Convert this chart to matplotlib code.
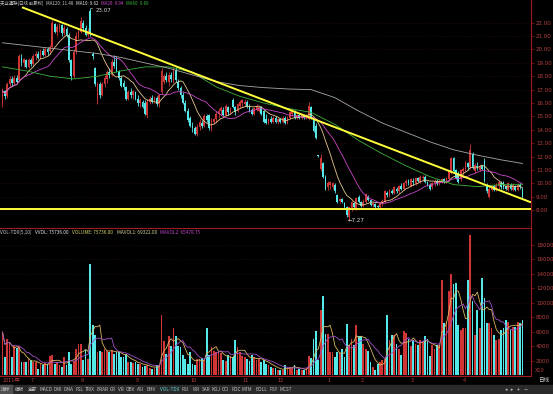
import numpy as np
import pandas as pd
import matplotlib
matplotlib.use("Agg")
import matplotlib.pyplot as plt
from matplotlib.patches import Rectangle

# daily candles, 2011-06 .. 2012-04 (price in yuan)
opens = [
    15.9, 16.9, 16.5, 17.4, 17.8, 17.5, 17.9, 17.7, 19.4, 19.0,
    19.2, 18.7, 19.2, 18.9, 19.5, 19.7, 19.4, 19.9, 19.6, 20.0,
    19.9, 20.2, 21.9, 21.3, 21.7, 21.8, 21.2, 21.5, 21.1, 19.2,
    18.0, 19.9, 21.0, 21.3, 22.0, 21.6, 21.1, 22.9, 19.7, 18.6,
    16.2, 17.4, 16.6, 17.4, 17.8, 18.3, 18.1, 19.1, 19.4, 18.4,
    17.9, 17.5, 17.2, 16.3, 16.8, 16.6, 16.8, 16.3, 16.0, 16.1,
    16.0, 15.1, 16.1, 16.4, 16.2, 16.4, 15.9, 16.8, 17.6, 18.0,
    17.6, 18.1, 17.7, 18.5, 17.6, 17.1, 16.6, 16.0, 15.4, 14.9,
    14.3, 14.1, 13.7, 14.2, 14.5, 14.3, 15.0, 15.1, 14.1, 14.6,
    14.8, 15.2, 15.4, 15.5, 15.1, 15.7, 15.3, 16.2, 15.7, 15.4,
    15.8, 16.0, 15.9, 16.1, 15.8, 15.5, 15.2, 15.5, 15.4, 15.7,
    15.4, 14.8, 14.5, 14.8, 14.6, 14.9, 14.6, 14.8, 14.6, 14.9,
    14.5, 14.9, 15.2, 15.4, 14.9, 15.1, 14.9, 15.1, 14.9, 14.8,
    15.7, 14.7, 14.3, 12.06, 11.1, 11.5, 10.5, 9.7, 9.9, 9.7,
    9.9, 9.1, 8.7, 8.8, 8.5, 8.25, 7.5, 8.0, 8.5, 8.1,
    9.0, 8.6, 8.3, 8.6, 9.0, 8.75, 8.4, 8.45, 8.3, 8.2,
    8.5, 8.6, 9.3, 9.1, 9.4, 9.3, 9.6, 9.4, 9.8, 9.6,
    10.0, 10.2, 9.8, 10.2, 10.0, 10.4, 10.1, 10.4, 10.5, 10.1,
    9.9, 9.7, 10.0, 10.2, 10.0, 10.1, 10.3, 10.1, 10.3, 10.8,
    11.9, 11.0, 10.8, 10.3, 10.9, 11.0, 11.5, 11.2, 12.2, 10.9,
    11.3, 11.0, 11.3, 11.7, 9.9, 9.0, 9.5, 9.8, 9.5, 9.8,
    10.0, 10.1, 9.8, 9.5, 9.9, 9.5, 9.8, 9.5, 9.9, 9.6,
]
highs = [
    17.1, 17.0, 17.6, 18.0, 18.0, 18.1, 18.1, 19.7, 19.7, 19.4,
    19.3, 19.4, 19.4, 19.7, 19.9, 19.9, 20.0, 20.1, 20.2, 20.2,
    20.3, 22.2, 22.0, 21.9, 22.0, 21.9, 21.8, 21.7, 21.2, 19.3,
    20.0, 21.3, 21.6, 22.4, 22.2, 21.8, 21.6, 23.07, 19.8, 18.7,
    17.6, 17.6, 17.6, 18.1, 18.5, 18.6, 19.3, 19.6, 19.5, 18.5,
    18.1, 17.7, 17.3, 17.0, 17.1, 17.0, 16.9, 16.6, 16.4, 16.2,
    16.2, 16.3, 16.5, 16.6, 16.5, 16.5, 16.7, 18.6, 18.2, 18.3,
    18.3, 18.3, 18.7, 18.7, 17.8, 17.3, 16.8, 16.2, 15.6, 15.0,
    14.6, 14.3, 14.4, 14.8, 14.7, 15.2, 15.2, 15.2, 14.9, 14.9,
    15.4, 15.6, 15.8, 15.7, 15.9, 15.8, 15.7, 16.4, 15.8, 16.0,
    16.2, 16.3, 16.3, 16.2, 15.9, 15.6, 15.7, 15.9, 15.8, 15.8,
    15.5, 15.2, 14.9, 15.0, 15.0, 15.0, 14.9, 14.9, 15.0, 15.0,
    15.0, 15.4, 15.6, 15.5, 15.2, 15.2, 15.2, 15.2, 15.2, 16.1,
    15.8, 14.8, 14.5, 12.1, 12.2, 11.6, 10.6, 10.2, 10.2, 10.1,
    10.0, 9.2, 8.9, 8.9, 8.6, 8.3, 8.3, 8.7, 8.6, 9.0,
    9.1, 8.7, 8.8, 9.3, 9.1, 8.8, 8.6, 8.5, 8.4, 8.6,
    8.8, 9.5, 9.4, 9.6, 9.6, 9.8, 9.7, 9.9, 10.0, 10.1,
    10.3, 10.3, 10.4, 10.4, 10.5, 10.5, 10.6, 10.6, 10.6, 10.2,
    10.0, 10.1, 10.3, 10.3, 10.3, 10.4, 10.4, 10.5, 11.0, 12.0,
    12.0, 11.1, 10.9, 11.1, 11.2, 11.7, 11.6, 12.9, 12.3, 11.5,
    11.6, 11.4, 11.4, 11.9, 10.0, 9.7, 9.9, 9.9, 10.0, 10.2,
    10.2, 10.2, 9.9, 10.1, 10.0, 10.0, 9.9, 10.0, 10.0, 9.7,
]
lows = [
    15.7, 16.3, 16.4, 17.2, 17.3, 17.4, 17.5, 17.6, 18.8, 18.7,
    18.6, 18.6, 18.8, 18.8, 19.2, 19.3, 19.3, 19.5, 19.5, 19.6,
    19.7, 20.1, 21.2, 21.0, 21.3, 21.0, 21.1, 20.9, 19.1, 17.7,
    17.9, 19.7, 20.8, 21.2, 21.4, 21.0, 20.9, 21.0, 19.3, 17.3,
    15.9, 16.4, 16.5, 17.2, 17.5, 17.9, 18.0, 18.6, 18.3, 17.7,
    17.2, 17.0, 16.2, 16.2, 16.4, 16.3, 16.2, 15.8, 15.7, 15.6,
    15.1, 14.9, 15.9, 16.0, 16.0, 15.8, 15.7, 16.7, 17.4, 17.6,
    17.3, 17.6, 17.5, 17.6, 17.0, 16.4, 15.9, 15.3, 14.6, 14.2,
    13.8, 13.6, 13.5, 14.0, 14.1, 14.2, 14.6, 14.0, 13.9, 14.4,
    14.6, 14.9, 15.1, 15.0, 15.0, 15.1, 15.2, 15.6, 15.1, 15.3,
    15.6, 15.7, 15.8, 15.6, 15.3, 15.1, 15.1, 15.4, 15.3, 15.1,
    14.5, 14.4, 14.4, 14.5, 14.5, 14.5, 14.4, 14.5, 14.5, 14.4,
    14.4, 14.8, 15.0, 14.8, 14.8, 14.8, 14.8, 14.8, 14.8, 14.7,
    14.8, 13.8, 13.3, 12.0, 10.9, 10.4, 9.5, 9.5, 9.6, 9.6,
    9.3, 8.5, 8.5, 8.5, 8.1, 7.5, 7.27, 7.9, 8.1, 8.0,
    8.5, 8.2, 8.2, 8.5, 8.7, 8.3, 8.2, 8.1, 8.1, 8.1,
    8.3, 8.5, 9.0, 9.0, 9.2, 9.2, 9.3, 9.3, 9.5, 9.5,
    9.8, 9.9, 9.7, 9.9, 9.9, 10.1, 10.0, 10.2, 10.0, 9.8,
    9.5, 9.6, 9.8, 9.9, 9.9, 10.0, 10.0, 10.0, 10.2, 10.7,
    10.8, 10.3, 10.0, 10.2, 10.6, 10.9, 11.0, 11.1, 11.1, 10.8,
    11.0, 10.9, 11.0, 10.1, 9.3, 8.9, 9.4, 9.4, 9.4, 9.6,
    9.6, 9.6, 9.5, 9.4, 9.5, 9.4, 9.4, 9.4, 9.6, 8.9,
]
closes = [
    16.9, 16.5, 17.4, 17.8, 17.5, 17.9, 17.6, 19.5, 19.0, 19.3,
    18.7, 19.2, 18.9, 19.5, 19.7, 19.4, 19.9, 19.6, 20.0, 19.8,
    20.2, 22.0, 21.3, 21.7, 21.9, 21.2, 21.6, 21.0, 19.2, 18.0,
    19.8, 21.0, 21.4, 22.1, 21.6, 21.1, 21.4, 21.2, 19.5, 17.4,
    17.4, 16.6, 17.4, 17.9, 18.3, 18.1, 19.1, 18.8, 18.4, 17.9,
    17.3, 17.2, 16.3, 16.8, 16.6, 16.9, 16.3, 16.0, 16.2, 15.7,
    15.2, 16.1, 16.3, 16.1, 16.4, 15.9, 16.6, 18.4, 18.0, 17.7,
    18.1, 17.8, 18.5, 17.7, 17.1, 16.6, 16.0, 15.4, 14.7, 14.3,
    14.1, 13.7, 14.2, 14.6, 14.3, 15.0, 14.7, 14.1, 14.7, 14.8,
    15.2, 15.4, 15.6, 15.1, 15.8, 15.3, 15.6, 15.7, 15.3, 15.9,
    16.1, 16.2, 16.1, 15.7, 15.4, 15.2, 15.6, 15.8, 15.7, 15.2,
    14.6, 14.5, 14.8, 14.6, 14.9, 14.6, 14.8, 14.6, 14.9, 14.5,
    14.9, 15.3, 15.5, 14.9, 15.1, 14.9, 15.1, 14.9, 15.0, 15.8,
    14.9, 13.9, 13.4, 12.04, 11.9, 10.5, 9.6, 10.0, 10.1, 10.0,
    9.4, 8.6, 8.8, 8.6, 8.2, 7.6, 8.2, 8.6, 8.2, 8.9,
    8.6, 8.3, 8.6, 9.2, 8.75, 8.4, 8.5, 8.2, 8.2, 8.5,
    8.7, 9.4, 9.1, 9.5, 9.3, 9.7, 9.4, 9.8, 9.6, 10.0,
    10.2, 10.0, 10.3, 10.1, 10.4, 10.2, 10.5, 10.5, 10.1, 9.9,
    9.6, 10.0, 10.2, 10.0, 10.2, 10.3, 10.1, 10.4, 10.9, 11.9,
    10.9, 10.4, 10.1, 11.0, 11.1, 11.6, 11.2, 12.5, 11.2, 11.4,
    11.2, 11.3, 11.1, 10.2, 9.4, 9.6, 9.8, 9.5, 9.9, 10.1,
    9.7, 9.7, 9.6, 10.0, 9.6, 9.9, 9.5, 9.9, 9.7, 9.0,
]
# volume, axis units (x10 shares)
volumes = [
    6000, 2600, 5000, 4600, 2600, 4000, 3800, 4000, 1800, 1900,
    1800, 2300, 2200, 1800, 1900, 900, 1600, 1500, 1700, 1600,
    2700, 2800, 1600, 1800, 1500, 1200, 2600, 1500, 3200, 1600,
    2000, 3700, 4400, 4300, 2100, 3500, 2300, 15400, 7000, 5600,
    3300, 3400, 3300, 3600, 3400, 3200, 3500, 3000, 3300, 3200,
    2600, 2500, 2900, 1900, 1900, 1700, 1900, 1600, 1600, 1200,
    1300, 1500, 1100, 900, 1000, 1400, 1500, 8300, 4700, 3000,
    5400, 4000, 6500, 5500, 4000, 3900, 2800, 2300, 1600, 3300,
    1600, 1400, 2300, 2300, 2400, 2200, 6500, 2800, 3900, 3400,
    3300, 3200, 3100, 2100, 2000, 2800, 2700, 2600, 4900, 3900,
    3300, 2700, 2500, 2300, 2000, 2800, 2500, 2100, 2300, 1900,
    2100, 1600, 1400, 1200, 1000, 1100, 800, 700, 700, 1400,
    1100, 1200, 1100, 1400, 700, 900, 800, 700, 1000, 2700,
    2400, 5000, 6100, 2100, 9000, 11000, 5700, 5700, 3300, 3200,
    2600, 3200, 3100, 3700, 2600, 7100, 4200, 5100, 4200, 7000,
    5400, 5400, 4400, 3700, 3400, 1900, 1200, 700, 1600, 1900,
    2200, 2300, 8400, 4900, 5600, 5600, 4400, 3700, 2800, 6100,
    5800, 5100, 4000, 4900, 4400, 4200, 4900, 4600, 5500, 5000,
    2700, 4200, 3700, 4200, 4200, 13100, 7200, 7500, 11700, 14000,
    12600, 12800, 7000, 6300, 6500, 6600, 13100, 19400, 10300, 5600,
    9100, 6600, 13500, 10700, 7300, 7300, 6600, 5600, 4900, 5100,
    6300, 6500, 7600, 7400, 6300, 6700, 6700, 7400, 7300, 7700,
]

# long moving averages every 10 sessions
ma_idx = [0, 10, 20, 30, 40, 50, 60, 70, 80, 90, 100, 110, 120,
          130, 140, 150, 160, 170, 180, 190, 200, 210, 219]
ma60 = [18.7, 18.4, 18.0, 17.8, 18.0, 18.4, 18.7, 18.7, 18.3, 17.2, 16.5, 16.0,
        15.6, 15.3, 14.4, 13.2, 12.2, 11.3, 10.5, 9.9, 9.75, 9.9, 9.89]
ma120 = [20.5, 20.3, 20.1, 19.9, 19.7, 19.4, 19.0, 18.6, 18.1, 17.6, 17.3, 17.15,
         17.05, 17.0, 16.4, 15.4, 14.5, 13.8, 13.1, 12.5, 12.1, 11.75, 11.48]

month_pos = [0, 12, 33, 56, 79, 101, 116, 137, 151, 172, 194]
month_labels = ["2011年", "7", "8", "9", "10", "11", "12", "1", "2", "3", "4"]

price_ticks = [8, 9, 10, 11, 12, 13, 14, 15, 16, 17, 18, 19, 20, 21, 22]
vol_ticks = [2000, 4000, 6000, 8000, 10000, 12000, 14000, 16000, 18000]

trend_x = [8.6, 222.2]
trend_y = [23.13, 8.6]
support_y = 8.04

tabs = ["指标", "模板", "全部", "MACD", "DMI", "DMA", "FSL", "TRIX", "BRAR", "CR", "VR",
        "OBV", "ASI", "EMV", "VOL-TDX", "RSI", "WR", "SAR", "KDJ", "CCI", "ROC", "MTM",
        "BOLL", "PSY", "MCST"]
tab_x = [0, 14, 27, 39, 52, 63, 74, 84, 96, 109, 117, 125, 136, 146, 159,
         181, 192, 201, 210, 221, 231, 241, 254, 268, 279]

W, H = 553, 394
RED = "#d03636"
CYAN = "#54e8e8"
AXRED = "#a01c1c"
LBL = "#b84040"
CJK = ["Noto Sans CJK SC", "DejaVu Sans"]


def fx(x):
    return x / W


def fy(y):
    return 1 - y / H


fig = plt.figure(figsize=(W / 100, H / 100), dpi=100, facecolor="black")
renderer = fig.canvas.get_renderer()
ax = fig.add_axes([0, fy(228), fx(531), 228 / H], facecolor="black")
axv = fig.add_axes([0, fy(376), fx(531), (376 - 229) / H], facecolor="black")

x = np.arange(len(closes))
o = np.array(opens)
c = np.array(closes)
up = c >= o
cols = np.where(up, RED, CYAN)

for a in (ax, axv):
    a.set_xlim(-1.05, 222.6)
    a.set_xticks([])
    a.yaxis.tick_right()
    a.tick_params(axis="y", colors=AXRED, labelcolor=LBL, labelsize=4,
                  length=2, width=0.5, pad=1.5)
    for s in ("top", "left"):
        a.spines[s].set_visible(False)
    for s in ("right", "bottom"):
        a.spines[s].set_color(AXRED)
        a.spines[s].set_linewidth(0.8)
    a.grid(axis="y", color="#3a0d0d", linestyle=(0, (1, 2)), linewidth=0.5)
    a.set_axisbelow(True)

# price panel
ax.set_ylim(6.655, 23.70)
ax.set_yticks(price_ticks)
ax.set_yticklabels([f"{v:.2f}" for v in price_ticks])
ax.vlines(x, lows, highs, colors=cols, linewidth=0.6, zorder=2)
ax.bar(x, np.maximum(np.abs(c - o), 0.05), bottom=np.minimum(o, c), width=0.74,
       color=cols, linewidth=0, zorder=2)

ma10 = pd.Series(closes).rolling(10, min_periods=1).mean()
ma20 = pd.Series(closes).rolling(20, min_periods=1).mean()
ax.plot(x, ma10, color="#e6c890", linewidth=0.6, zorder=3)
ax.plot(x, ma20, color="#c848c8", linewidth=0.6, zorder=3)
ax.plot(ma_idx, ma60, color="#3cb43c", linewidth=0.6, zorder=3)
ax.plot(ma_idx, ma120, color="#a8a8a8", linewidth=0.6, zorder=3)

ax.plot(trend_x, trend_y, color="#ffff3c", linewidth=1.4, zorder=4)
ax.axhline(support_y, color="#ffff3c", linewidth=1.4, zorder=4)

ax.annotate("23.07", xy=(37.2, 23.07), xytext=(39.2, 22.88), color="#d8d8d8",
            fontsize=4, va="center", ha="left",
            arrowprops=dict(arrowstyle="-", color="#d8d8d8", linewidth=0.4))
ax.text(145.3, 7.22, "←7.27", color="#d8d8d8", fontsize=4, va="center", ha="left")

# volume panel
axv.set_ylim(-69, 20200)
axv.set_yticks(vol_ticks)
axv.set_yticklabels([str(v) for v in vol_ticks])
axv.bar(x, volumes, width=0.74, color=cols, linewidth=0, zorder=2)
mavol1 = pd.Series(volumes).rolling(5, min_periods=1).mean()
mavol2 = pd.Series(volumes).rolling(10, min_periods=1).mean()
axv.plot(x, mavol1, color="#d8b860", linewidth=0.6, zorder=3)
axv.plot(x, mavol2, color="#a050c8", linewidth=0.6, zorder=3)


def text_row(parts, y, size, gap=2.5):
    # lay coloured pieces side by side, each after the previous one's width
    xcur = 0.5
    for s, col in parts:
        t = fig.text(fx(xcur), fy(y), s, color=col, fontsize=size, family=CJK, va="center")
        xcur += t.get_window_extent(renderer).width + gap


text_row([("天业通联(日线 前复权)", "#c8c8c8"), ("MA120: 11.48", "#c8c8c8"),
          ("MA10: 9.62", "#e8e8e8"), ("MA20: 9.94", "#c848c8"),
          ("MA60: 9.89", "#3cb43c")], 3.5, 3.2)
text_row([("VOL-TDX(5,10)", "#c8c8c8"), ("VVOL: 75736.00", "#e8e8e8"),
          ("VOLUME: 75736.00", "#d8d070"), ("MAVOL1: 69322.00", "#d8d0a0"),
          ("MAVOL2: 65478.75", "#c048c8")], 232.5, 3.4, gap=3.5)

# month labels
for pos, lab in zip(month_pos, month_labels):
    xp = 2.5 + pos * 2.374
    fig.text(fx(max(xp, 1)), fy(381), lab, color=LBL, fontsize=4, family=CJK,
             va="center", ha="left")
fig.text(fx(538), fy(381), "日线", color="#d0d0d0", fontsize=4, family=CJK, va="center")
fig.text(fx(535), fy(371), "X10", color=LBL, fontsize=3.6, va="center")

# bottom toolbar
fig.patches.append(Rectangle((0, 0), 1, 9 / H, transform=fig.transFigure,
                             color="#2a2a2a", zorder=0))
fig.patches.append(Rectangle((0, 0), fx(12), 9 / H, transform=fig.transFigure,
                             color="#505050", zorder=0))
for tx, lab in zip(tab_x, tabs):
    col = "#60d0d0" if lab == "VOL-TDX" else "#c0c0c0"
    fig.text(fx(tx + 1), fy(389.5), lab, color=col, fontsize=3.4, family=CJK, va="center")
fig.text(fx(505), fy(389.5), "◂  ▸  +  −", color="#c0c0c0", fontsize=3.6, va="center")

fig.savefig("out.png", dpi=100, facecolor="black")
